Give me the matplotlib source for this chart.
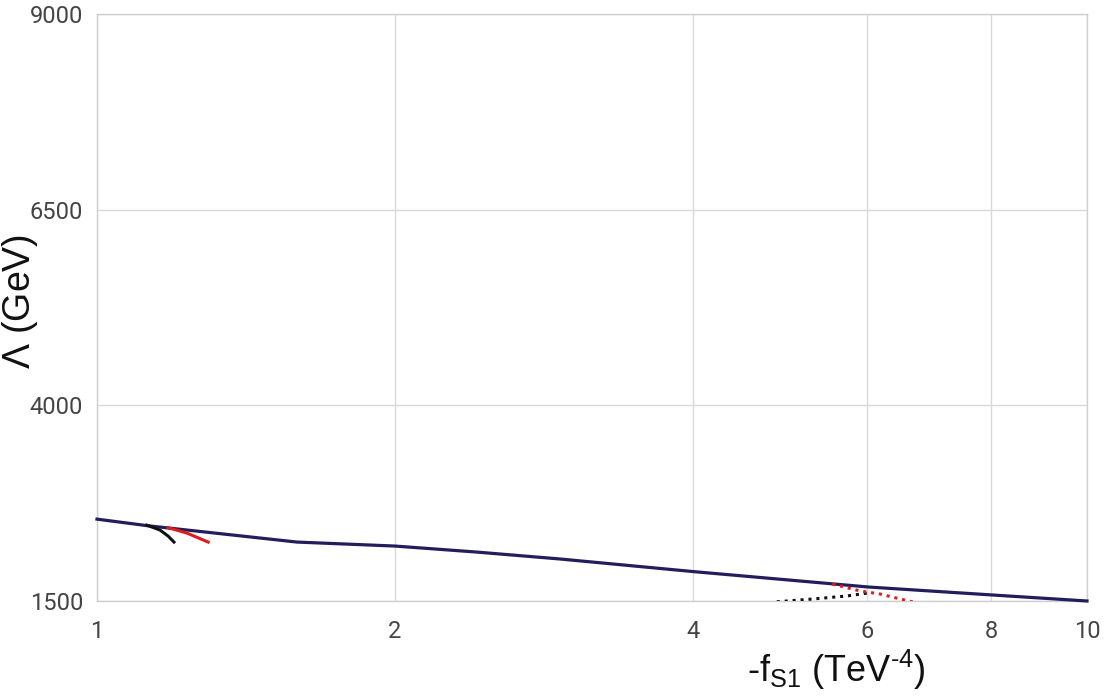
import numpy as np
import matplotlib
matplotlib.use("Agg")
import matplotlib.pyplot as plt

plt.rcParams['mathtext.fontset'] = 'custom'
plt.rcParams['mathtext.rm'] = 'Liberation Sans'
plt.rcParams['mathtext.it'] = 'Liberation Sans:italic'

# main limit curve (navy)
fs1_main = [1.0, 1.123, 1.592, 2.0, 2.42, 2.94, 4.0, 6.01, 8.02, 10.0]
lam_main = [2546, 2463, 2253, 2202, 2125, 2036, 1876, 1679, 1577, 1500]

# short solid pieces near fS1 ~ 1.2
fs1_black = [1.123, 1.158, 1.18, 1.196]
lam_black = [2469, 2406, 2329, 2253]
fs1_red = [1.18, 1.233, 1.295]
lam_red = [2437, 2367, 2253]

# dotted pieces near fS1 ~ 6
fs1_black_dot = [4.86, 5.29, 5.72, 6.01]
lam_black_dot = [1490, 1526, 1564, 1602]
fs1_red_dot = [5.53, 5.90, 6.18, 6.67]
lam_red_dot = [1717, 1628, 1589, 1487]

x_ticks = [1, 2, 4, 6, 8, 10]
y_ticks = [1500, 4000, 6500, 9000]

fig = plt.figure(figsize=(11.06, 6.98), dpi=100)
ax = fig.add_axes([97 / 1106, 1 - 601 / 698, 990 / 1106, 587 / 698])

ax.plot(fs1_main, lam_main, color='#221d5c', lw=2.3, clip_on=False, zorder=3)
ax.plot(fs1_black, lam_black, color='#111111', lw=2.2, zorder=4)
ax.plot(fs1_red, lam_red, color='#e01b1b', lw=2.2, zorder=4)
ax.plot(fs1_black_dot, lam_black_dot, color='#111111', lw=2.2,
        linestyle=(0, (1, 1.6)), zorder=4)
ax.plot(fs1_red_dot, lam_red_dot, color='#e01b1b', lw=2.2,
        linestyle=(0, (1, 1.6)), zorder=4)

ax.set_xscale('log')
ax.set_xlim(1, 10)
ax.set_ylim(1500, 9000)
ax.set_xticks(x_ticks)
ax.set_xticklabels([str(t) for t in x_ticks])
ax.xaxis.set_minor_locator(matplotlib.ticker.NullLocator())
ax.set_yticks(y_ticks)
ax.set_yticklabels([str(t) for t in y_ticks])

ax.grid(True, color='#d9d9d9', lw=1.0)
ax.set_axisbelow(True)
for s in ax.spines.values():
    s.set_color('#cfcfcf')
    s.set_linewidth(1.0)

ax.tick_params(length=0, labelsize=17, labelcolor='#444444')
ax.tick_params(axis='x', pad=14)
ax.tick_params(axis='y', pad=10)
for lbl in ax.get_xticklabels() + ax.get_yticklabels():
    lbl.set_fontfamily('Roboto')

ax.set_xlabel(r'-f$_{\mathrm{S1}}$ (TeV$^{\text{-4}}$)', fontsize=26,
              fontfamily='Liberation Sans', color='#111111')
ax.xaxis.set_label_coords(0.747, -0.08)
ax.set_ylabel(r'$\Lambda$ (GeV)', fontsize=27,
              fontfamily='Liberation Sans', color='#111111')
ax.yaxis.set_label_coords(-0.058, 0.51)

plt.savefig('out.png', dpi=100)
